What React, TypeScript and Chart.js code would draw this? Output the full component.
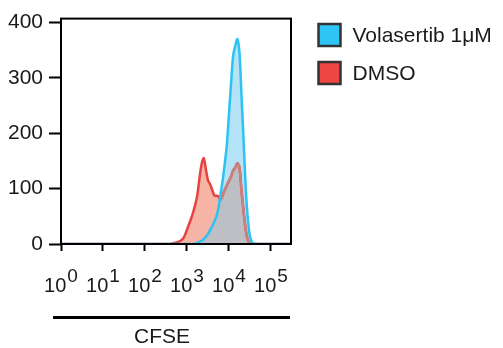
import React, { useEffect, useRef } from "react";
import { Chart, registerables } from "chart.js";

Chart.register(...registerables);

// CFSE intensity bins (log-spaced histogram bin centres)
const cfseBins = [
  1, 10, 100, 316,
  398, 447, 501, 562, 631, 708, 794, 891, 1000, 1122, 1259, 1413, 1585, 1778, 1995, 2239,
  2512, 2818, 3162, 3548, 3981, 4467, 5012, 5623, 6310, 7079, 7943, 8913, 10000, 11220,
  12589, 14125, 15849, 17783, 19953, 22387, 25119, 28184, 31623, 35481, 39811, 44668, 50119,
  63096, 100000, 300000,
];

const volasertibCounts = [
  0, 0, 0, 0,
  0, 0, 0, 0, 0, 0, 0, 0, 0, 0, 0, 0, 1, 2, 4, 6,
  9, 13, 18, 25, 32, 40, 50, 65, 90, 115, 145, 180, 235, 290,
  340, 358, 370, 345, 265, 185, 100, 45, 14, 3, 1, 0, 0,
  0, 0, 0,
];

const dmsoCounts = [
  0, 0, 0, 0,
  0, 1, 2, 3, 4, 6, 9, 16, 26, 36, 46, 58, 72, 90, 120, 145,
  155, 135, 115, 108, 98, 88, 87, 86, 80, 88, 98, 106, 114, 122,
  133, 138, 146, 138, 95, 58, 25, 7, 1, 0, 0, 0, 0,
  0, 0, 0,
];

const seriesLabels = ["Volasertib 1μM", "DMSO"];
const seriesLineColors = ["#2CC3F2", "#E8423F"];
const seriesFillColors = ["#B4E2F6", "#F6B4A6"];
const overlapFillColor = "#BEBEC5";
const overlapLineColor = "#C5827E";
const legendSwatchColors = ["#2EC5F5", "#EE4545"];
const xTickExponents = [0, 1, 2, 3, 4, 5];
const yTickValues = [0, 100, 200, 300, 400];
const xAxisTitle = "CFSE";

const FONT = '"Liberation Sans", Arial, Helvetica, sans-serif';

function traceLine(p: Path2D, pts: any[]) {
  p.moveTo(pts[0].x, pts[0].y);
  for (let i = 1; i < pts.length; i++) {
    const a = pts[i - 1];
    const b = pts[i];
    if (a.cp2x !== undefined && b.cp1x !== undefined) {
      p.bezierCurveTo(a.cp2x, a.cp2y, b.cp1x, b.cp1y, b.x, b.y);
    } else {
      p.lineTo(b.x, b.y);
    }
  }
}

function buildPaths(chart: any) {
  const area = chart.chartArea;
  return chart.data.datasets.map((_: any, i: number) => {
    const meta = chart.getDatasetMeta(i);
    meta.dataset.updateControlPoints(area, "x");
    const pts = meta.data;
    const line = new Path2D();
    traceLine(line, pts);
    const fill = new Path2D();
    traceLine(fill, pts);
    fill.lineTo(pts[pts.length - 1].x, area.bottom);
    fill.lineTo(pts[0].x, area.bottom);
    fill.closePath();
    return { line, fill };
  });
}

const areaPlugin = {
  id: "areas",
  beforeDatasetsDraw(chart: any) {
    const { ctx, chartArea: a } = chart;
    const paths = buildPaths(chart);
    chart.$cfsePaths = paths;
    ctx.save();
    ctx.beginPath();
    ctx.rect(a.left, a.top, a.right - a.left, a.bottom - a.top);
    ctx.clip();
    ctx.fillStyle = seriesFillColors[0];
    ctx.fill(paths[0].fill);
    ctx.fillStyle = seriesFillColors[1];
    ctx.fill(paths[1].fill);
    ctx.clip(paths[0].fill);
    ctx.fillStyle = overlapFillColor;
    ctx.fill(paths[1].fill);
    ctx.restore();
  },
  afterDatasetDraw(chart: any, args: any) {
    if (args.index !== 1 || !chart.$cfsePaths) return;
    const { ctx } = chart;
    const paths = chart.$cfsePaths;
    ctx.save();
    ctx.clip(paths[0].fill);
    ctx.strokeStyle = overlapLineColor;
    ctx.lineWidth = 2.5;
    ctx.lineJoin = "round";
    ctx.stroke(paths[1].line);
    ctx.restore();
  },
};

const decorPlugin = {
  id: "decor",
  afterDatasetsDraw(chart: any) {
    const { ctx, chartArea: a } = chart;
    ctx.save();
    ctx.strokeStyle = "#000";
    ctx.lineWidth = 2;
    ctx.strokeRect(a.left, a.top, a.right - a.left, a.bottom - a.top);
    ctx.restore();
  },
  afterDraw(chart: any) {
    const { ctx, chartArea: a } = chart;
    const xs = chart.scales.x;
    ctx.save();
    ctx.fillStyle = "#1a1a1a";
    ctx.textBaseline = "alphabetic";
    ctx.textAlign = "left";
    for (const e of xTickExponents) {
      const px = xs.getPixelForValue(Math.pow(10, e));
      ctx.font = `20px ${FONT}`;
      const base = "10";
      const wb = ctx.measureText(base).width;
      ctx.font = `19px ${FONT}`;
      const sup = String(e);
      const ws = ctx.measureText(sup).width;
      const start = px - (wb + ws + 1) / 2;
      ctx.font = `20px ${FONT}`;
      ctx.fillText(base, start, a.bottom + 48);
      ctx.font = `19px ${FONT}`;
      ctx.fillText(sup, start + wb + 1, a.bottom + 37.5);
    }
    // axis title bar + title
    ctx.fillStyle = "#000";
    ctx.fillRect(a.left - 8, a.bottom + 72, a.right - a.left + 7, 3);
    ctx.fillStyle = "#1a1a1a";
    ctx.font = `21px ${FONT}`;
    ctx.textAlign = "center";
    ctx.fillText(xAxisTitle, a.left + 101, a.bottom + 99);

    // legend
    const lx = a.right + 27.5;
    const ly = [24, 62];
    ctx.textAlign = "left";
    ctx.textBaseline = "middle";
    seriesLabels.forEach((label, i) => {
      ctx.fillStyle = legendSwatchColors[i];
      ctx.fillRect(lx, ly[i], 22, 22);
      ctx.strokeStyle = "#333";
      ctx.lineWidth = 2.5;
      ctx.strokeRect(lx, ly[i], 22, 22);
      ctx.fillStyle = "#1a1a1a";
      ctx.font = `21px ${FONT}`;
      ctx.fillText(label, lx + 34, ly[i] + 12);
    });
    ctx.restore();
  },
};

export default function App() {
  const canvasRef = useRef<HTMLCanvasElement | null>(null);

  useEffect(() => {
    const canvas = canvasRef.current;
    if (!canvas) return;
    const counts = [volasertibCounts, dmsoCounts];
    const chart = new Chart(canvas, {
      type: "line",
      data: {
        datasets: seriesLabels.map((label, i) => ({
          label,
          data: cfseBins.map((x, j) => ({ x, y: counts[i][j] })),
          borderColor: seriesLineColors[i],
          backgroundColor: seriesFillColors[i],
          borderWidth: 2.5,
          fill: false,
          pointRadius: 0,
          tension: 0.3,
        })),
      },
      options: {
        responsive: false,
        animation: false,
        devicePixelRatio: 1,
        layout: { padding: { left: 0, top: 15, right: 212, bottom: 0 } },
        plugins: {
          legend: { display: false },
          tooltip: { enabled: false },
        },
        scales: {
          x: {
            type: "logarithmic",
            min: 1,
            max: 300000,
            afterBuildTicks: (s: any) => {
              s.ticks = xTickExponents.map((e) => ({ value: Math.pow(10, e) }));
            },
            afterFit: (s: any) => {
              s.height = 104;
            },
            ticks: { display: false },
            grid: {
              drawOnChartArea: false,
              drawTicks: true,
              tickLength: 7,
              tickWidth: 2,
              tickColor: "#000",
            },
            border: { display: false },
          },
          y: {
            type: "linear",
            min: 0,
            max: 407,
            afterBuildTicks: (s: any) => {
              s.ticks = yTickValues.map((v) => ({ value: v }));
            },
            afterFit: (s: any) => {
              s.width = 61;
            },
            ticks: {
              padding: 6,
              color: "#1a1a1a",
              font: { family: FONT, size: 21 },
            },
            grid: {
              drawOnChartArea: false,
              drawTicks: true,
              tickLength: 12,
              tickWidth: 2,
              tickColor: "#000",
            },
            border: { display: false },
          },
        },
      },
      plugins: [areaPlugin, decorPlugin],
    });
    return () => chart.destroy();
  }, []);

  return (
    <div style={{ position: "fixed", left: 0, top: 0, width: 503, height: 348, background: "#fff" }}>
      <canvas ref={canvasRef} width={503} height={348} style={{ width: 503, height: 348, display: "block" }} />
    </div>
  );
}
